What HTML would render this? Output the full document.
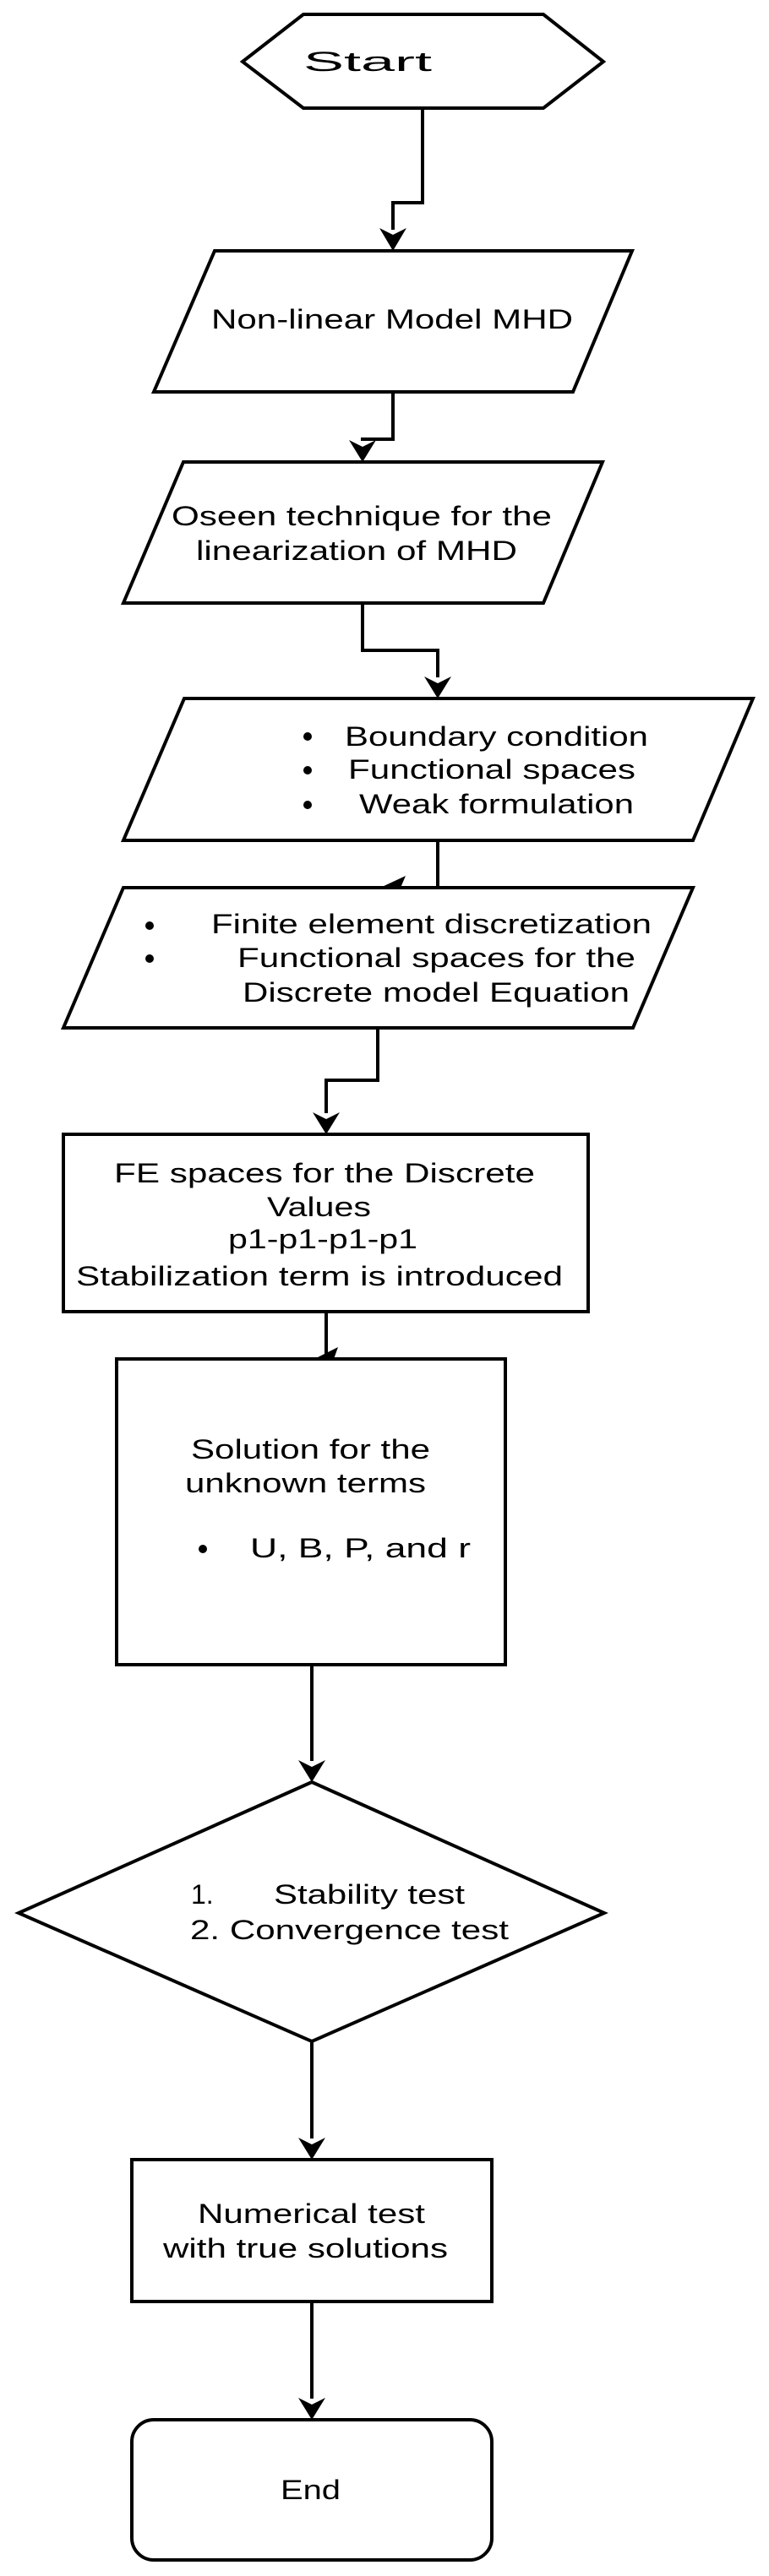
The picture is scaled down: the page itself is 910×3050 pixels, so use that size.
<!DOCTYPE html>
<html><head><meta charset="utf-8"><style>html,body{margin:0;padding:0;background:#fff;}svg{display:block;}</style></head>
<body>
<svg width="910" height="3050" viewBox="0 0 910 3050" xmlns="http://www.w3.org/2000/svg" font-family="Liberation Sans, Arial, sans-serif" font-size="32" fill="#000">
<defs>
<marker id="ah" markerWidth="32" markerHeight="26" refX="16" refY="25" orient="0" markerUnits="userSpaceOnUse">
<path d="M0,0 L16,8 L32,0 L16,26 Z" fill="#000"/>
</marker>
</defs>
<g fill="none" stroke="#000" stroke-width="4">
<!-- shapes -->
<polygon points="287,73 359,17 643,17 714,73 643,128 359,128"/>
<polygon points="254,297 748,297 678,464 182,464"/>
<polygon points="217,547 713,547 643,714 146,714"/>
<polygon points="218,827 891,827 820,995 146,995"/>
<polygon points="146,1051 820,1051 749,1217 75,1217"/>
<rect x="75" y="1343" width="621" height="210"/>
<rect x="138" y="1609" width="460" height="362"/>
<polygon points="369,2110 715,2265 369,2417 22,2265"/>
<rect x="156" y="2557" width="426" height="168"/>
<rect x="156" y="2865" width="426" height="166" rx="26" ry="26"/>
<!-- connectors -->
<polyline points="500,128 500,240 465,240 465,272"/>
<polyline points="465,464 465,520 429,520 429,522"/>
<polyline points="429,714 429,770 518,770 518,802"/>
<polyline points="518,995 518,1051"/>
<polyline points="447,1217 447,1279 386,1279 386,1318"/>
<polyline points="386,1553 386,1609"/>
<polyline points="369,1971 369,2085"/>
<polyline points="369,2417 369,2532"/>
<polyline points="369,2725 369,2840"/>
</g>
<!-- arrowheads -->
<g fill="#000">
<path d="M449,270 L465,278 L481,270 L465,297 Z"/>
<path d="M413,521 L429,529 L445,521 L429,547 Z"/>
<path d="M502,801 L518,809 L534,801 L518,827 Z"/>
<path d="M450,1051 L480,1037 L474,1051 Z"/>
<path d="M370,1317 L386,1325 L402,1317 L386,1343 Z"/>
<path d="M372,1609 L400,1595 L395,1609 Z"/>
<path d="M353,2084 L369,2092 L385,2084 L369,2110 Z"/>
<path d="M353,2531 L369,2539 L385,2531 L369,2557 Z"/>
<path d="M353,2839 L369,2847 L385,2839 L369,2865 Z"/>
<!-- bullets -->
<circle cx="364" cy="872" r="5"/>
<circle cx="364" cy="912" r="5"/>
<circle cx="364" cy="953" r="5"/>
<circle cx="177" cy="1096" r="5"/>
<circle cx="177" cy="1135" r="5"/>
<circle cx="240" cy="1834" r="5"/>
</g>
<!-- text -->
<text x="359" y="84" textLength="152" lengthAdjust="spacingAndGlyphs">Start</text>
<text x="250" y="389" textLength="428" lengthAdjust="spacingAndGlyphs">Non-linear Model MHD</text>
<text x="203" y="622" textLength="450" lengthAdjust="spacingAndGlyphs">Oseen technique for the</text>
<text x="232" y="663" textLength="380" lengthAdjust="spacingAndGlyphs">linearization of MHD</text>
<text x="408" y="883" textLength="359" lengthAdjust="spacingAndGlyphs">Boundary condition</text>
<text x="412" y="922" textLength="340" lengthAdjust="spacingAndGlyphs">Functional spaces</text>
<text x="425" y="963" textLength="325" lengthAdjust="spacingAndGlyphs">Weak formulation</text>
<text x="250" y="1105" textLength="521" lengthAdjust="spacingAndGlyphs">Finite element discretization</text>
<text x="281" y="1145" textLength="471" lengthAdjust="spacingAndGlyphs">Functional spaces for the</text>
<text x="287" y="1186" textLength="458" lengthAdjust="spacingAndGlyphs">Discrete model Equation</text>
<text x="135" y="1400" textLength="498" lengthAdjust="spacingAndGlyphs">FE spaces for the Discrete</text>
<text x="316" y="1440" textLength="123" lengthAdjust="spacingAndGlyphs">Values</text>
<text x="270" y="1478" textLength="224" lengthAdjust="spacingAndGlyphs">p1-p1-p1-p1</text>
<text x="90" y="1522" textLength="576" lengthAdjust="spacingAndGlyphs">Stabilization term is introduced</text>
<text x="226" y="1727" textLength="283" lengthAdjust="spacingAndGlyphs">Solution for the</text>
<text x="219" y="1767" textLength="285" lengthAdjust="spacingAndGlyphs">unknown terms</text>
<text x="296" y="1844" textLength="261" lengthAdjust="spacingAndGlyphs">U, B, P, and  r</text>
<text x="226" y="2254">1.</text>
<text x="324" y="2254" textLength="226" lengthAdjust="spacingAndGlyphs">Stability test</text>
<text x="225" y="2296" textLength="377" lengthAdjust="spacingAndGlyphs">2. Convergence test</text>
<text x="234" y="2632" textLength="269" lengthAdjust="spacingAndGlyphs">Numerical test</text>
<text x="193" y="2673" textLength="337" lengthAdjust="spacingAndGlyphs">with true solutions</text>
<text x="332" y="2959" textLength="71" lengthAdjust="spacingAndGlyphs">End</text>
</svg>
</body></html>
